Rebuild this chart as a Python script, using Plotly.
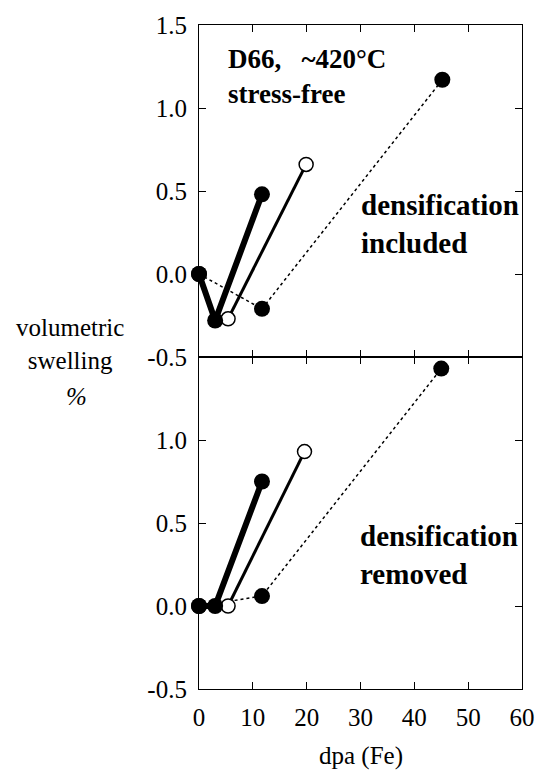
import plotly.graph_objects as go
from plotly.subplots import make_subplots

# Data
# top panel: densification included
thick_x_top = [0, 3.0, 11.7]
thick_y_top = [0.0, -0.28, 0.48]
open_x_top = [5.4, 19.9]
open_y_top = [-0.27, 0.66]
dot_x_top = [0, 11.7, 45.2]
dot_y_top = [0.0, -0.21, 1.17]

# bottom panel: densification removed
thick_x_bot = [0, 3.0, 11.7]
thick_y_bot = [0.0, 0.0, 0.75]
open_x_bot = [5.4, 19.6]
open_y_bot = [0.0, 0.93]
dot_x_bot = [0, 11.7, 45.0]
dot_y_bot = [0.0, 0.06, 1.43]

x_ticks = [0, 10, 20, 30, 40, 50, 60]
y_ticks_top = [-0.5, 0.0, 0.5, 1.0, 1.5]
y_text_top = ["-0.5", "0.0", "0.5", "1.0", "1.5"]
y_ticks_bot = [-0.5, 0.0, 0.5, 1.0]
y_text_bot = ["-0.5", "0.0", "0.5", "1.0"]

FONT = "Liberation Serif"

fig = make_subplots(rows=2, cols=1, vertical_spacing=0)

def add_panel(row, dx, dy, ox, oy, tx, ty):
    fig.add_trace(go.Scatter(x=dx, y=dy, mode="lines+markers",
                             line=dict(color="black", width=1.5, dash="dot"),
                             marker=dict(size=16, color="black"),
                             cliponaxis=False, showlegend=False), row=row, col=1)
    fig.add_trace(go.Scatter(x=ox, y=oy, mode="lines+markers",
                             line=dict(color="black", width=3),
                             marker=dict(size=14, color="white", line=dict(color="black", width=1.5)),
                             cliponaxis=False, showlegend=False), row=row, col=1)
    fig.add_trace(go.Scatter(x=tx, y=ty, mode="lines+markers",
                             line=dict(color="black", width=6),
                             marker=dict(size=16, color="black"),
                             cliponaxis=False, showlegend=False), row=row, col=1)

add_panel(1, dot_x_top, dot_y_top, open_x_top, open_y_top, thick_x_top, thick_y_top)
add_panel(2, dot_x_bot, dot_y_bot, open_x_bot, open_y_bot, thick_x_bot, thick_y_bot)

axis_common = dict(showline=True, linecolor="black", linewidth=1.2, mirror="ticks",
                   ticks="inside", ticklen=7, tickcolor="black", tickwidth=1,
                   showgrid=False, zeroline=False,
                   tickfont=dict(family=FONT, size=25, color="black"))

fig.update_xaxes(**axis_common, range=[0, 60], tickvals=x_ticks)
fig.update_xaxes(showticklabels=False, row=1, col=1)
fig.update_xaxes(row=2, col=1, ticklabelstandoff=6)
fig.update_yaxes(**axis_common, range=[-0.5, 1.5], ticklabelstandoff=6)
fig.update_yaxes(row=1, col=1, tickvals=y_ticks_top, ticktext=y_text_top)
fig.update_yaxes(row=2, col=1, tickvals=y_ticks_bot, ticktext=y_text_bot)

fig.update_layout(
    width=547, height=771,
    margin=dict(l=199, r=14, t=18, b=82),
    plot_bgcolor="white", paper_bgcolor="white",
    font=dict(family=FONT, color="black"),
)
fig.layout.yaxis.domain = [0.5, 1.0]
fig.layout.yaxis2.domain = [0.0, 0.5]

def bold_block(text, xref, yref, x, y, size):
    fig.add_annotation(text="<b>" + text + "</b>", xref=xref, yref=yref,
                       x=x, y=y, xanchor="left", yanchor="middle", align="left",
                       showarrow=False, font=dict(family=FONT, size=size, color="black"))

bold_block("D66,\u00a0\u00a0\u00a0~420°C<br>stress-free", "x", "y", 5.0, 1.19, 27)
bold_block("densification<br>included", "x", "y", 29.8, 0.30, 29)
bold_block("densification<br>removed", "x2", "y2", 29.6, 0.307, 29)

reg = dict(family=FONT, size=25, color="black")
fig.add_annotation(text="volumetric<br>swelling", xref="paper", yref="paper",
                   x=-0.4, y=0.519, xanchor="center", yanchor="middle", align="center",
                   showarrow=False, font=reg)
fig.add_annotation(text="<i>%</i>", xref="paper", yref="paper",
                   x=-0.38, y=0.440, xanchor="center", yanchor="middle",
                   showarrow=False, font=reg)
fig.add_annotation(text="dpa (Fe)", xref="paper", yref="paper",
                   x=0.5, y=-0.077, xanchor="center", yanchor="top",
                   showarrow=False, font=dict(family=FONT, size=25, color="black"))

fig.write_html("out.html", config={"displayModeBar": False},
               post_script="document.body.style.margin='0px';document.body.style.overflow='hidden';")
